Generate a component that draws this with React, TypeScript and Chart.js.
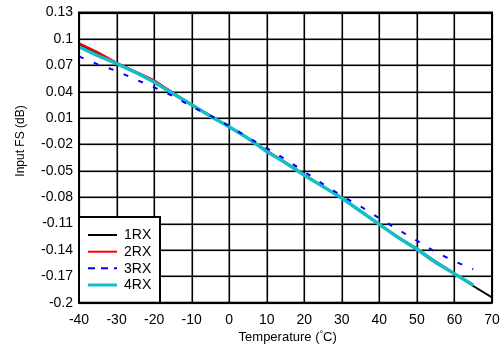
import React, { useEffect, useRef } from "react";
import { Chart, registerables } from "chart.js";

Chart.register(...registerables);

const temps = [-40, -35, -30, -25, -20, -15, -10, -5, 0, 5, 10, 15, 20, 25, 30, 35, 40, 45, 50, 55, 60, 65, 70];
const rx1 = [0.093, 0.083, 0.072, 0.062, 0.052, 0.039, 0.025, 0.013, 0.0, -0.013, -0.027, -0.041, -0.055, -0.068, -0.081, -0.096, -0.111, -0.125, -0.139, -0.153, -0.167, -0.181, -0.194];
const rx2 = [0.095, 0.085, 0.073, 0.063, 0.053, 0.039, 0.025, 0.012, 0.0, -0.013, -0.027, -0.040, -0.054, -0.068, -0.081, -0.096, -0.111, -0.126, -0.140, -0.155, -0.167, null, null];
const rx3 = [0.080, 0.071, 0.0635, 0.054, 0.045, 0.035, 0.023, 0.0126, 0.001, -0.012, -0.0243, -0.037, -0.051, -0.065, -0.0785, -0.0905, -0.104, -0.117, -0.1295, -0.1425, -0.153, -0.162, null];
const rx4 = [0.091, 0.081, 0.072, 0.062, 0.051, 0.038, 0.025, 0.012, 0.0, -0.013, -0.028, -0.041, -0.055, -0.068, -0.081, -0.096, -0.111, -0.126, -0.139, -0.154, -0.167, -0.180, null];
const yTicks = [-0.2, -0.17, -0.14, -0.11, -0.08, -0.05, -0.02, 0.01, 0.04, 0.07, 0.1, 0.13];
const xTicks = [-40, -30, -20, -10, 0, 10, 20, 30, 40, 50, 60, 70];
const seriesNames = ["1RX", "2RX", "3RX", "4RX"];

const FONT = "'Liberation Sans', Arial, sans-serif";

function pts(vals: (number | null)[]) {
  return temps.map((t, i) => ({ x: t, y: vals[i] }));
}

const overlayPlugin = {
  id: "overlay",
  afterDraw(chart: any) {
    const ctx = chart.ctx as CanvasRenderingContext2D;
    const a = chart.chartArea;
    const xs = chart.scales.x;
    const ys = chart.scales.y;
    ctx.save();
    // grid lines, painted behind the existing drawing
    ctx.globalCompositeOperation = "destination-over";
    ctx.fillStyle = "#000000";
    const top = Math.round(a.top);
    const bottom = Math.round(a.bottom);
    const left = Math.round(a.left);
    const right = Math.round(a.right);
    for (let i = 0; i < xTicks.length; i++) {
      const px = Math.round(xs.getPixelForValue(xTicks[i]));
      ctx.fillRect(px - 0.5, top, 1.6, bottom - top);
    }
    for (let i = 0; i < yTicks.length; i++) {
      const py = Math.round(ys.getPixelForValue(yTicks[i]));
      ctx.fillRect(left, py - 0.5, right - left, 1.6);
    }
    ctx.globalCompositeOperation = "source-over";

    ctx.setLineDash([]);
    ctx.strokeStyle = "#000";
    ctx.lineWidth = 2;
    ctx.strokeRect(a.left, a.top, a.right - a.left, a.bottom - a.top);

    const lx = a.left, ly = 217, lw = 81, lh = a.bottom - 217;
    ctx.fillStyle = "#fff";
    ctx.fillRect(lx, ly, lw, lh);
    ctx.strokeRect(lx, ly, lw, lh);
    const rows = [235, 251.7, 268.3, 285];
    const styles = [
      { c: "#000", w: 2, d: [] as number[] },
      { c: "#ff0000", w: 2, d: [] as number[] },
      { c: "#0000ff", w: 2, d: [7, 6] },
      { c: "rgb(20,190,200)", w: 3, d: [] as number[] },
    ];
    ctx.font = `14px ${FONT}`;
    ctx.textBaseline = "middle";
    ctx.textAlign = "left";
    rows.forEach((y, i) => {
      const s = styles[i];
      ctx.beginPath();
      ctx.strokeStyle = s.c;
      ctx.lineWidth = s.w;
      ctx.setLineDash(s.d);
      ctx.moveTo(88, y);
      ctx.lineTo(117, y);
      ctx.stroke();
      ctx.setLineDash([]);
      ctx.fillStyle = "#000";
      ctx.fillText(seriesNames[i], 124, y + 0.5);
    });

    ctx.save();
    ctx.translate(21, 141);
    ctx.rotate(-Math.PI / 2);
    ctx.font = `12px ${FONT}`;
    ctx.textAlign = "center";
    ctx.textBaseline = "middle";
    ctx.fillStyle = "#000";
    ctx.fillText("Input FS (dB)", 0, 0);
    ctx.restore();

    ctx.fillStyle = "#000";
    ctx.textAlign = "left";
    ctx.textBaseline = "alphabetic";
    const p1 = "Temperature (";
    const p2 = "°";
    const p3 = "C)";
    ctx.font = `13px ${FONT}`;
    const w1 = ctx.measureText(p1).width;
    const w3 = ctx.measureText(p3).width;
    ctx.font = `9px ${FONT}`;
    const w2 = ctx.measureText(p2).width;
    const total = w1 + w2 + w3;
    let x = 287.7 - total / 2;
    const base = 341;
    ctx.font = `13px ${FONT}`;
    ctx.fillText(p1, x, base);
    x += w1;
    ctx.font = `9px ${FONT}`;
    ctx.fillText(p2, x, base - 4);
    x += w2;
    ctx.font = `13px ${FONT}`;
    ctx.fillText(p3, x, base);
    ctx.restore();
  },
};

export default function App() {
  const ref = useRef<HTMLCanvasElement | null>(null);
  useEffect(() => {
    if (!ref.current) return;
    const chart = new Chart(ref.current, {
      type: "line",
      data: {
        datasets: [
          { label: "3RX", data: pts(rx3), borderColor: "#0000ff", borderWidth: 2, borderDash: [5, 11], pointRadius: 0, order: 0, fill: false },
          { label: "4RX", data: pts(rx4), borderColor: "rgb(20,190,200)", borderWidth: 3.5, pointRadius: 0, order: 1, fill: false },
          { label: "2RX", data: pts(rx2), borderColor: "#ff0000", borderWidth: 2, pointRadius: 0, order: 2, fill: false },
          { label: "1RX", data: pts(rx1), borderColor: "#000000", borderWidth: 2, pointRadius: 0, order: 3, fill: false },
        ],
      },
      options: {
        animation: false,
        responsive: false,
        layout: { padding: { left: 0, right: 0, top: 12.5, bottom: 0 } },
        plugins: { legend: { display: false }, tooltip: { enabled: false } },
        scales: {
          x: {
            type: "linear",
            min: -40,
            max: 70,
            afterBuildTicks: (s: any) => { s.ticks = xTicks.map((v) => ({ value: v })); },
            afterFit: (s: any) => { s.height = 46.3; s.paddingRight = 8; s.paddingLeft = 0; },
            grid: { display: false, drawTicks: false },
            border: { display: false },
            ticks: { color: "#000", font: { family: FONT, size: 14 }, padding: 9, maxRotation: 0, autoSkip: false },
          },
          y: {
            type: "linear",
            min: -0.2,
            max: 0.13,
            afterBuildTicks: (s: any) => { s.ticks = yTicks.map((v) => ({ value: v })); },
            afterFit: (s: any) => { s.width = 79; s.paddingTop = 0; s.paddingBottom = 0; },
            grid: { display: false, drawTicks: false },
            border: { display: false },
            ticks: {
              color: "#000",
              font: { family: FONT, size: 14 },
              padding: 6,
              autoSkip: false,
              callback: (v: any) => String(Number(Number(v).toFixed(2))),
            },
          },
        },
      },
      plugins: [overlayPlugin],
    } as any);
    return () => chart.destroy();
  }, []);
  return (
    <div style={{ position: "fixed", left: 0, top: 0, width: 500, height: 349, background: "#fff" }}>
      <canvas ref={ref} width={500} height={349} style={{ display: "block" }} />
    </div>
  );
}
